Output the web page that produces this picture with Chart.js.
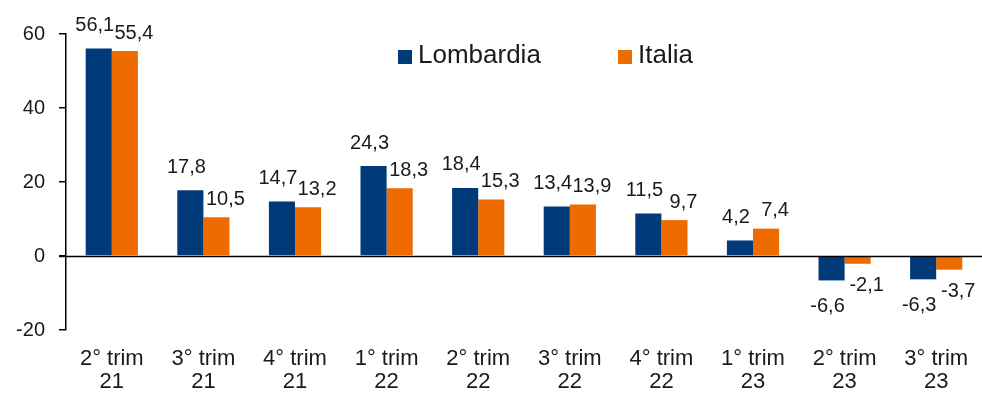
<!DOCTYPE html>
<html>
<head>
<meta charset="utf-8">
<script src="https://cdn.jsdelivr.net/npm/chart.js@4"></script>
<style>
html,body{margin:0;padding:0;background:#fff;}
#wrap{width:982px;height:394px;}
</style>
</head>
<body>
<div id="wrap"><canvas id="c" width="982" height="394"></canvas></div>
<script>
const categories = [
  ['2° trim','21'], ['3° trim','21'], ['4° trim','21'], ['1° trim','22'], ['2° trim','22'],
  ['3° trim','22'], ['4° trim','22'], ['1° trim','23'], ['2° trim','23'], ['3° trim','23']
];
const seriesNames = ['Lombardia', 'Italia'];
const lombardia = [56.1, 17.8, 14.7, 24.3, 18.4, 13.4, 11.5, 4.2, -6.6, -6.3];
const italia    = [55.4, 10.5, 13.2, 18.3, 15.3, 13.9, 9.7, 7.4, -2.1, -3.7];
const yMin = -20, yMax = 60, yStep = 20;

const FONT = "'Liberation Sans', Arial, sans-serif";
const BLUE = '#003A78';
const ORANGE = '#EE6B00';
const TEXT = '#1a1a1a';

function fmt(v){ return v.toFixed(1).replace('.', ','); }

const labelOffsets = [
  {dx: -4, up: 23, down: 26},
  {dx: 9,  up: 18, down: 22}
];

const dataLabels = {
  id: 'dataLabels',
  afterDatasetsDraw(chart) {
    const ctx = chart.ctx;
    ctx.save();
    ctx.font = '20px ' + FONT;
    ctx.fillStyle = TEXT;
    ctx.textAlign = 'center';
    ctx.textBaseline = 'middle';
    chart.data.datasets.forEach((ds, i) => {
      const meta = chart.getDatasetMeta(i);
      const off = labelOffsets[i];
      meta.data.forEach((el, j) => {
        const v = ds.data[j];
        const y = v >= 0 ? el.y - off.up : el.y + off.down;
        ctx.fillText(fmt(v), el.x + off.dx, y);
      });
    });
    ctx.restore();
  }
};

const zeroLine = {
  id: 'zeroLine',
  afterDatasetsDraw(chart) {
    const ctx = chart.ctx;
    const y = Math.round(chart.scales.y.getPixelForValue(0)) + 0.5;
    ctx.save();
    ctx.strokeStyle = '#000';
    ctx.lineWidth = 1.5;
    ctx.beginPath();
    ctx.moveTo(chart.chartArea.left - 7, y);
    ctx.lineTo(chart.chartArea.right, y);
    ctx.stroke();
    ctx.restore();
  }
};

const customLegend = {
  id: 'customLegend',
  afterDraw(chart) {
    const ctx = chart.ctx;
    const items = [
      {x: 398, color: BLUE, text: seriesNames[0]},
      {x: 618, color: ORANGE, text: seriesNames[1]}
    ];
    ctx.save();
    ctx.font = '26px ' + FONT;
    ctx.textBaseline = 'middle';
    ctx.textAlign = 'left';
    items.forEach(it => {
      ctx.fillStyle = it.color;
      ctx.fillRect(it.x, 50, 14, 14);
      ctx.fillStyle = TEXT;
      ctx.fillText(it.text, it.x + 20, 56);
    });
    ctx.restore();
  }
};

new Chart(document.getElementById('c'), {
  type: 'bar',
  data: {
    labels: categories,
    datasets: [
      {label: seriesNames[0], data: lombardia, backgroundColor: BLUE, borderWidth: 0},
      {label: seriesNames[1], data: italia, backgroundColor: ORANGE, borderWidth: 0}
    ]
  },
  options: {
    responsive: false,
    animation: false,
    devicePixelRatio: 1,
    categoryPercentage: 0.57,
    barPercentage: 1.0,
    layout: {padding: {top: 34, left: 0, right: 0, bottom: 0}},
    plugins: {
      legend: {display: false},
      tooltip: {enabled: false}
    },
    scales: {
      x: {
        grid: {display: false, drawTicks: false},
        border: {display: false},
        ticks: {
          color: TEXT,
          font: {family: FONT, size: 22, lineHeight: 1.05},
          padding: 17,
          maxRotation: 0,
          autoSkip: false
        },
        afterFit(scale) {
          scale.height = 64;
          scale.paddingLeft = 0;
          scale.paddingRight = 0;
        }
      },
      y: {
        min: yMin,
        max: yMax,
        grid: {drawOnChartArea: false, drawTicks: true, tickLength: 7, color: '#000', lineWidth: 1.5},
        border: {display: true, color: '#000', width: 1.5},
        ticks: {
          stepSize: yStep,
          color: TEXT,
          font: {family: FONT, size: 20},
          padding: 14
        },
        afterFit(scale) { scale.width = 66; }
      }
    }
  },
  plugins: [zeroLine, dataLabels, customLegend]
});
</script>
</body>
</html>
